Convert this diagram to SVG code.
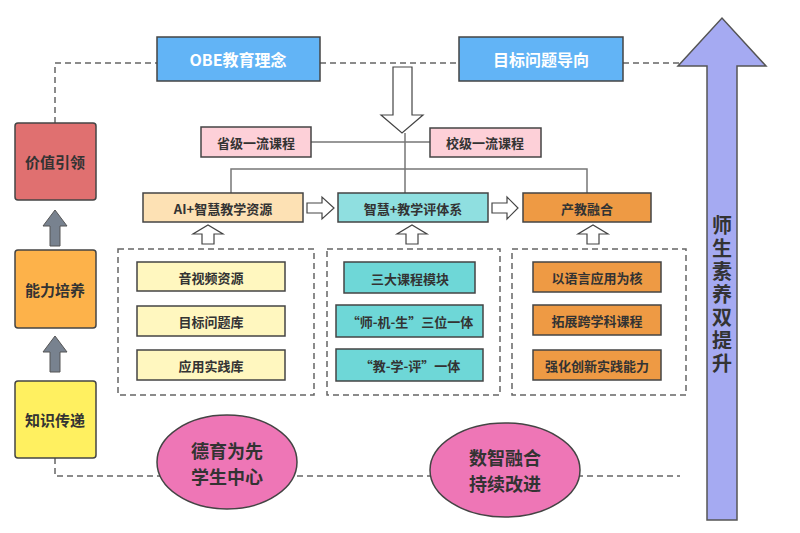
<svg xmlns="http://www.w3.org/2000/svg" width="800" height="533" viewBox="0 0 800 533">
<style>
text{font-family:"Noto Sans CJK SC","Noto Sans",sans-serif;font-weight:bold;fill:#333;text-anchor:middle;dominant-baseline:central}
.b{stroke:#444;stroke-width:1.5}
.d{fill:none;stroke:#666;stroke-width:1.5;stroke-dasharray:6,4}
.l{fill:none;stroke:#777;stroke-width:1.5}
.h{fill:#fff;stroke:#444;stroke-width:1.2}
.s{font-size:13px}
</style>
<rect width="800" height="533" fill="#fff"/>
<g id="connectors">
<path class="d" d="M55 123V63H157M320 63H459M623 63H680M55 458V476H680"/>
<path class="l" d="M311 142H430M405 133V193M231 193V169H587V193"/>
<path class="h" d="M393 67H412V115H423L402 133L381 115H393Z"/>
<path class="h" d="M307 203H322V197L334 208L322 219V213H307Z"/>
<path class="h" d="M492 203H507V197L518 208L507 219V213H492Z"/>
<path class="h" d="M202 244V234H193L208 225L223 234H214V244Z"/>
<path class="h" d="M406 244V234H397L412 225L427 234H418V244Z"/>
<path class="h" d="M587 244V234H578L593 225L608 234H599V244Z"/>
<path d="M50 246V226H43L55 210L67 226H60V246Z" fill="#78828f" stroke="#555"/>
<path d="M50 372V352H43L55 336L67 352H60V372Z" fill="#78828f" stroke="#555"/>
</g>
<g id="bigarrow"><path d="M707 520V66H678L722 18L766 66H737V520Z" fill="#a5aaf2" stroke="#555" stroke-width="1.5"/>
<text x="722" y="296" font-size="20" style="writing-mode:vertical-rl;letter-spacing:3px">师生素养双提升</text></g>
<g id="obe"><rect class="b" x="157" y="37" width="163" height="44" fill="#62b4f6"/><text x="238" y="59" font-size="16" fill="#fff" style="fill:#fff">OBE教育理念</text></g>
<g id="goal"><rect class="b" x="459" y="37" width="164" height="44" fill="#62b4f6"/><text x="541" y="59" font-size="16" style="fill:#fff">目标问题导向</text></g>
<g id="sheng"><rect class="b" x="201" y="127" width="110" height="30" fill="#fdd0d8"/><text class="s" x="256" y="142">省级一流课程</text></g>
<g id="xiao"><rect class="b" x="430" y="128" width="111" height="29" fill="#fdd0d8"/><text class="s" x="485" y="142">校级一流课程</text></g>
<g id="ai"><rect class="b" x="143" y="193" width="160" height="29" fill="#fde1b4"/><text class="s" x="223" y="208">AI+智慧教学资源</text></g>
<g id="eval"><rect class="b" x="338" y="193" width="150" height="29" fill="#8fdfe0"/><text class="s" x="413" y="208">智慧+教学评体系</text></g>
<g id="chan"><rect class="b" x="523" y="193" width="128" height="29" fill="#ee9a44"/><text class="s" x="587" y="208">产教融合</text></g>
<g id="box1"><rect class="d" x="118" y="249" width="196" height="146"/>
<rect class="b" x="137" y="262" width="148" height="29" fill="#fff7bf"/><text class="s" x="211" y="277">音视频资源</text>
<rect class="b" x="137" y="306" width="148" height="30" fill="#fff7bf"/><text class="s" x="211" y="321">目标问题库</text>
<rect class="b" x="137" y="350" width="148" height="30" fill="#fff7bf"/><text class="s" x="211" y="365">应用实践库</text></g>
<g id="box2"><rect class="d" x="327" y="249" width="173" height="146"/>
<rect class="b" x="344" y="262" width="131" height="31" fill="#6ed7d7"/><text class="s" x="410" y="278">三大课程模块</text>
<rect class="b" x="336" y="305" width="147" height="32" fill="#6ed7d7"/><text class="s" x="410" y="321">“师-机-生”三位一体</text>
<rect class="b" x="336" y="349" width="147" height="32" fill="#6ed7d7"/><text class="s" x="410" y="365">“教-学-评”一体</text></g>
<g id="box3"><rect class="d" x="512" y="249" width="174" height="146"/>
<rect class="b" x="533" y="262" width="128" height="30" fill="#ee9a44"/><text class="s" x="597" y="277">以语言应用为核</text>
<rect class="b" x="533" y="305" width="128" height="30" fill="#ee9a44"/><text class="s" x="597" y="320">拓展跨学科课程</text>
<rect class="b" x="533" y="350" width="128" height="30" fill="#ee9a44"/><text class="s" x="597" y="365">强化创新实践能力</text></g>
<g id="jiazhi"><rect class="b" x="15" y="123" width="81" height="77" rx="3" fill="#e07070"/><text x="55" y="161" font-size="15">价值引领</text></g>
<g id="nengli"><rect class="b" x="15" y="250" width="81" height="78" rx="3" fill="#fdb24a"/><text x="55" y="289" font-size="15">能力培养</text></g>
<g id="zhishi"><rect class="b" x="15" y="381" width="81" height="77" rx="3" fill="#fff060"/><text x="55" y="419" font-size="15">知识传递</text></g>
<g id="deyu"><ellipse class="b" cx="227" cy="462" rx="70" ry="47" fill="#ee76b6"/><text x="227" y="450" font-size="18">德育为先</text><text x="227" y="476" font-size="18">学生中心</text></g>
<g id="shuzhi"><ellipse class="b" cx="505" cy="470" rx="75" ry="47" fill="#ee76b6"/><text x="505" y="457" font-size="18">数智融合</text><text x="505" y="483" font-size="18">持续改进</text></g>
</svg>
